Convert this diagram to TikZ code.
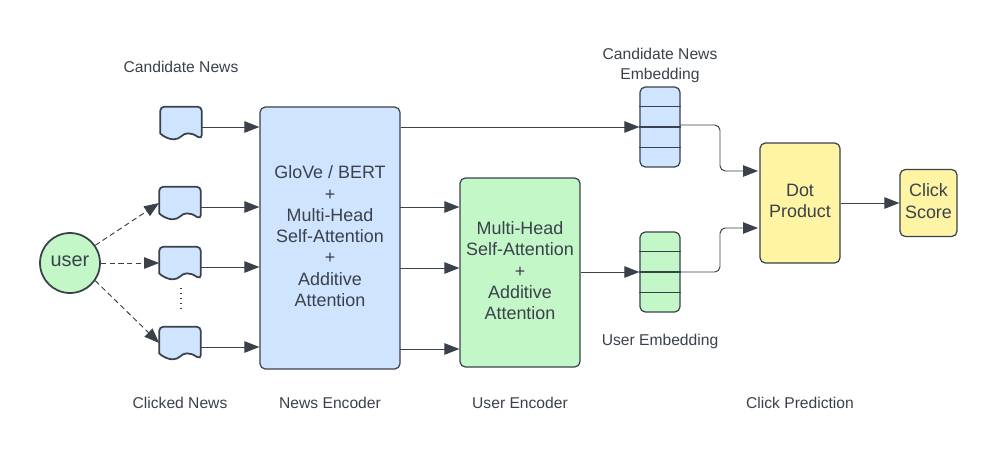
\documentclass[tikz,border=0pt]{standalone}
\usepackage{fontspec}
\setmainfont{Liberation Sans}
\usetikzlibrary{arrows, arrows.meta}
\usetikzlibrary{calc}

\definecolor{inkgray}{HTML}{3A414A}
\definecolor{boxblue}{HTML}{CFE4FF}
\definecolor{boxgreen}{HTML}{C3F7C8}
\definecolor{boxyellow}{HTML}{FFF4A3}

\tikzset{
  block/.style={draw=inkgray, line width=0.7pt, rounded corners=3pt, align=center, text=inkgray, font=\fontsize{10.2}{12.1}\selectfont, inner sep=0pt, text depth=2.2pt},
  caption/.style={align=center, text=inkgray, font=\fontsize{8.9}{10.9}\selectfont},
  link/.style={draw=inkgray, line width=0.55pt, rounded corners=3pt, -{Triangle[length=8.5pt,width=6.5pt]}},
  dashlink/.style={link, densely dashed},
  newsdoc/.style={inner sep=0pt, minimum width=0.82cm, minimum height=0.64cm},
  doclook/.style={draw=inkgray, line width=1pt, fill=boxblue, line join=round},
}

\newcommand{\newsshape}[1]{
  \path[doclook, rounded corners=2.5pt] ($(#1.south west)+(0,-6)$) -- (#1.north west) -- (#1.north east) -- (#1.south east)
    [sharp corners] .. controls ($(#1.south east)+(-8,-5)$) and ($(#1.south east)+(-10,-6)$) .. ($(#1.south east)+(-14,-6)$)
    .. controls ($(#1.south east)+(-20,-6)$) and ($(#1.south east)+(-21,0)$) .. ($(#1.south east)+(-28,0)$)
    .. controls ($(#1.south east)+(-33,0)$) and ($(#1.south west)+(3,-3)$) .. ($(#1.south west)+(0,-6)$) -- cycle;
}
\newcommand{\stackrows}[1]{
  \foreach \row in {1,2,3} {
    \draw[inkgray, line width=0.6pt] ($(#1.north west)!\row/4!(#1.south west)$) -- ($(#1.north east)!\row/4!(#1.south east)$);
  }
}

\begin{document}
\begin{tikzpicture}[x=0.02cm, y=-0.02cm]
  \useasboundingbox (0,0) rectangle (997,467);

  \node[newsdoc] (cand) at (181,123) {};
  \node[newsdoc] (click1) at (180,203) {};
  \node[newsdoc] (click2) at (180,263) {};
  \node[newsdoc] (click3) at (180,343) {};
  \newsshape{cand}
  \newsshape{click1}
  \newsshape{click2}
  \newsshape{click3}

  \node[block, circle, fill=boxgreen, line width=1pt, minimum size=1.2cm, font=\fontsize{11.3}{13}\selectfont] (user) at (70,263) {user};

  \node[block, fill=boxblue, minimum width=2.8cm, minimum height=5.24cm] (newsenc) at (330,238) {GloVe / BERT\\+\\Multi-Head\\Self-Attention\\+\\Additive\\Attention};
  \node[block, fill=boxgreen, minimum width=2.4cm, minimum height=3.78cm] (userenc) at (520,272.5) {Multi-Head\\Self-Attention\\+\\Additive\\Attention};
  \node[block, fill=boxblue, minimum width=0.8cm, minimum height=1.6cm] (candemb) at (660,127) {};
  \node[block, fill=boxgreen, minimum width=0.8cm, minimum height=1.6cm] (useremb) at (660,272) {};
  \stackrows{candemb}
  \stackrows{useremb}
  \node[block, fill=boxyellow, minimum width=1.6cm, minimum height=2.4cm] (dot) at (800,203) {Dot\\Product};
  \node[block, fill=boxyellow, minimum width=1.14cm, minimum height=1.34cm] (score) at (928.5,203) {Click\\Score};

  % captions
  \node[caption] (candcap) at (181,67) {Candidate News};
  \node[caption] (clickcap) at (180,403) {Clicked News};
  \node[caption] (newscap) at (330,403) {News Encoder};
  \node[caption] (usercap) at (520,403) {User Encoder};
  \node[caption] (predcap) at (800,403) {Click Prediction};
  \node[caption] (candembcap) at (660,65.5) {Candidate News\\Embedding};
  \node[caption] (userembcap) at (660,341) {User Embedding};

  % news to encoder
  \coordinate (n0) at ([yshift=-0.08cm]cand.east);
  \coordinate (n1) at ([yshift=-0.08cm]click1.east);
  \coordinate (n2) at ([yshift=-0.08cm]click2.east);
  \coordinate (n3) at ([yshift=-0.08cm]click3.east);
  \draw[link] (n0) -- (newsenc.west |- n0);
  \draw[link] (n1) -- (newsenc.west |- n1);
  \draw[link] (n2) -- (newsenc.west |- n2);
  \draw[link] (n3) -- (newsenc.west |- n3);

  % user to clicked news
  \draw[dashlink] (user.35) -- (click1.west);
  \draw[dashlink] (user.east) -- (click2.west);
  \draw[dashlink] (user.-35) -- (click3.west);
  \coordinate (dotstart) at (181,288);
  \coordinate (dotend) at (181,312);
  \draw[inkgray, line width=0.8pt, dotted] (dotstart) -- (dotend);

  % encoders to embeddings
  \draw[link] (newsenc.east |- candemb.west) -- (candemb.west);
  \coordinate (u1) at (400,207);
  \coordinate (u2) at (400,268);
  \coordinate (u3) at (400,349);
  \draw[link] (u1) -- (userenc.west |- u1);
  \draw[link] (u2) -- (userenc.west |- u2);
  \draw[link] (u3) -- (userenc.west |- u3);
  \draw[link] (userenc.east |- useremb.west) -- (useremb.west);

  % prediction
  \coordinate (d1) at (758,171);
  \coordinate (d2) at (758,228);
  \coordinate (c1) at (680,125);
  \draw[link] (c1) -- (720,125) -- (720,171) -- (d1);
  \draw[link] (useremb.east) -- (720,272) -- (720,228) -- (d2);
  \draw[link] (dot.east) -- (score.west);
\end{tikzpicture}
\end{document}
